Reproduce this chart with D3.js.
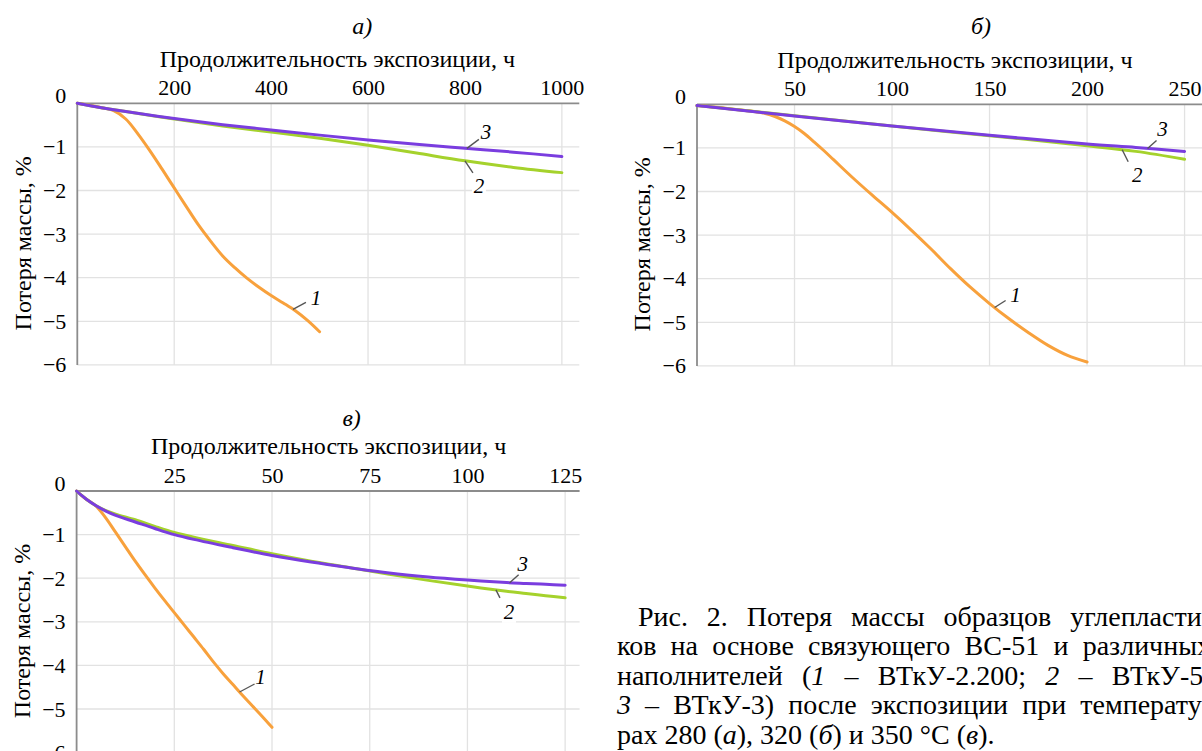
<!DOCTYPE html>
<html>
<head>
<meta charset="utf-8">
<script src="https://cdn.jsdelivr.net/npm/d3@7"></script>
<style>
  body { margin: 0; background: #fff; }
  svg { display: block; }
  text { font-family: "Liberation Serif", "Times New Roman", "DejaVu Serif", serif; fill: #000; }
</style>
</head>
<body>
<svg id="chart" width="1202" height="751"></svg>
<script>
// ---- data ----
const yTicks = [0, -1, -2, -3, -4, -5, -6];

// panel а) 280 °C
const ticksA = [200, 400, 600, 800, 1000];
const hoursA1 = [0, 50, 75, 100, 125, 150, 175, 200, 225, 250, 275, 300, 325, 350, 375, 400, 425, 450, 475, 500];
const lossA1 = [0, -0.10, -0.17, -0.36, -0.70, -1.09, -1.51, -1.94, -2.37, -2.79, -3.16, -3.50, -3.77, -4.01, -4.22, -4.41, -4.58, -4.76, -4.98, -5.24];
const hoursA23 = [0, 50, 100, 200, 300, 400, 500, 600, 700, 800, 900, 1000];
const lossA2 = [0, -0.10, -0.19, -0.36, -0.52, -0.66, -0.80, -0.96, -1.14, -1.32, -1.47, -1.59];
const lossA3 = [0, -0.10, -0.19, -0.35, -0.49, -0.61, -0.73, -0.84, -0.94, -1.03, -1.12, -1.22];

// panel б) 320 °C
const ticksB = [50, 100, 150, 200, 250];
const hoursB1 = [0, 10, 20, 30, 35, 40, 45, 50, 55, 60, 65, 70, 80, 90, 100, 110, 120, 130, 140, 150, 160, 170, 180, 190, 200];
const lossB1 = [-0.03, -0.07, -0.12, -0.17, -0.21, -0.28, -0.38, -0.51, -0.67, -0.86, -1.06, -1.27, -1.69, -2.09, -2.48, -2.89, -3.32, -3.77, -4.19, -4.57, -4.92, -5.24, -5.53, -5.76, -5.91];
const hoursB23 = [0, 50, 100, 150, 200, 225, 250];
const lossB2 = [-0.03, -0.26, -0.50, -0.72, -0.95, -1.08, -1.26];
const lossB3 = [-0.03, -0.27, -0.50, -0.71, -0.91, -0.99, -1.08];

// panel в) 350 °C
const ticksC = [25, 50, 75, 100, 125];
const hoursC1 = [0, 1.25, 2.5, 5, 7.5, 10, 12.5, 15, 17.5, 20, 22.5, 25, 27.5, 30, 32.5, 35, 37.5, 40, 42.5, 45, 47.5, 50];
const lossC1 = [0, -0.10, -0.19, -0.35, -0.62, -0.95, -1.28, -1.61, -1.92, -2.22, -2.51, -2.79, -3.07, -3.35, -3.63, -3.92, -4.19, -4.44, -4.69, -4.93, -5.17, -5.42];
const hoursC23 = [0, 1.25, 2.5, 5, 7.5, 10, 15, 20, 25, 30, 40, 50, 60, 70, 80, 90, 100, 110, 115, 120, 125];
const lossC2 = [0, -0.10, -0.19, -0.34, -0.45, -0.53, -0.66, -0.81, -0.95, -1.06, -1.25, -1.44, -1.61, -1.76, -1.91, -2.05, -2.18, -2.30, -2.35, -2.40, -2.45];
const lossC3 = [0, -0.10, -0.19, -0.34, -0.46, -0.56, -0.71, -0.86, -1.00, -1.11, -1.30, -1.48, -1.63, -1.76, -1.88, -1.97, -2.04, -2.10, -2.12, -2.14, -2.16];

const seriesNames = ["1", "2", "3"];
const colors = ["#f8a13c", "#a5d22c", "#7a3ddf"];

const axisTitle = "Продолжительность экспозиции, ч";
const yTitle = "Потеря массы, %";

// ---- drawing ----
const svg = d3.select("#chart");

function valueAt(hours, loss, h) {
  const i = d3.bisectLeft(hours, h);
  if (i <= 0) return loss[0];
  if (i >= hours.length) return loss[loss.length - 1];
  const t = (h - hours[i - 1]) / (hours[i] - hours[i - 1]);
  return loss[i - 1] + t * (loss[i] - loss[i - 1]);
}

function drawPanel(cfg) {
  const g = svg.append("g").attr("transform", `translate(${cfg.left},${cfg.top})`);
  const x = d3.scaleLinear().domain([0, cfg.xMax]).range([0, cfg.width]);
  const y = d3.scaleLinear().domain([-6, 0]).range([cfg.height, 0]);

  // grid
  g.append("g").selectAll("line").data(cfg.xTicks).join("line")
    .attr("x1", d => x(d)).attr("x2", d => x(d))
    .attr("y1", 0).attr("y2", cfg.height)
    .attr("stroke", "#e2e2e2").attr("stroke-width", 1.3);
  g.append("g").selectAll("line").data(yTicks.filter(d => d < 0)).join("line")
    .attr("x1", 0).attr("x2", cfg.width)
    .attr("y1", d => y(d)).attr("y2", d => y(d))
    .attr("stroke", "#e2e2e2").attr("stroke-width", 1.3);

  // axis lines (top and left)
  g.append("line").attr("x1", 0).attr("x2", cfg.width).attr("y1", 0).attr("y2", 0)
    .attr("stroke", "#8c8c8c").attr("stroke-width", 1.8);
  g.append("line").attr("x1", 0).attr("x2", 0).attr("y1", 0).attr("y2", cfg.height)
    .attr("stroke", "#8c8c8c").attr("stroke-width", 1.8);

  // tick labels
  const xAxis = g.append("g")
    .call(d3.axisTop(x).tickValues(cfg.xTicks).tickSize(0).tickPadding(8).tickFormat(d3.format("d")));
  xAxis.attr("font-family", null).attr("font-size", null);
  xAxis.select(".domain").remove();
  xAxis.selectAll("text").style("font-size", "22px").attr("fill", "#000");

  const yAxis = g.append("g")
    .call(d3.axisLeft(y).tickValues(yTicks).tickSize(0).tickPadding(11).tickFormat(d3.format("d")));
  yAxis.attr("font-family", null).attr("font-size", null);
  yAxis.select(".domain").remove();
  yAxis.selectAll("text").style("font-size", "22px").attr("fill", "#000");
  yAxis.selectAll(".tick").filter(d => d === 0).select("text").attr("y", -8);

  // curves
  const line = d3.line().x(d => x(d[0])).y(d => y(d[1])).curve(d3.curveCatmullRom.alpha(0.5));
  cfg.series.forEach(s => {
    g.append("path")
      .datum(d3.zip(s.hours, s.loss))
      .attr("d", line)
      .attr("fill", "none")
      .attr("stroke", s.color)
      .attr("stroke-width", 3)
      .attr("stroke-linecap", "round");
  });

  // curve numbers with leader lines
  cfg.notes.forEach(n => {
    const s = cfg.series[n.idx];
    const px = x(n.h), py = y(valueAt(s.hours, s.loss, n.h));
    g.append("rect")
      .attr("x", px + n.tx - 7).attr("y", py + n.ty - 11)
      .attr("width", 14).attr("height", 22).attr("fill", "#fff");
    g.append("line")
      .attr("x1", px).attr("y1", py).attr("x2", px + n.lx).attr("y2", py + n.ly)
      .attr("stroke", "#555").attr("stroke-width", 1.4);
    g.append("text")
      .attr("x", px + n.tx).attr("y", py + n.ty)
      .attr("dy", "0.35em").attr("text-anchor", "middle")
      .style("font-style", "italic").style("font-size", "21px")
      .text(seriesNames[n.idx]);
  });

  // titles
  g.append("text")
    .attr("x", cfg.titleX).attr("y", -45).attr("dy", "0.35em")
    .attr("text-anchor", "middle").style("font-size", "24px")
    .text(axisTitle);
  g.append("text")
    .attr("x", cfg.letterX).attr("y", cfg.letterY).attr("dy", "0.35em")
    .attr("text-anchor", "middle").style("font-size", "24px")
    .style("font-style", "italic")
    .text(cfg.letter);
  g.append("text")
    .attr("transform", `translate(${-55},${140}) rotate(-90)`)
    .attr("dy", "0.35em")
    .attr("text-anchor", "middle").style("font-size", "24px")
    .text(yTitle);
}

drawPanel({
  left: 77.3, top: 103.3, width: 502, height: 261.6, xMax: 1036,
  xTicks: ticksA, letter: "а)", letterX: 285, letterY: -78, titleX: 260,
  series: [
    { hours: hoursA1, loss: lossA1, color: colors[0] },
    { hours: hoursA23, loss: lossA2, color: colors[1] },
    { hours: hoursA23, loss: lossA3, color: colors[2] }
  ],
  notes: [
    { idx: 2, h: 804, lx: 12, ly: -9, tx: 19, ty: -17 },
    { idx: 1, h: 800, lx: 8, ly: 12, tx: 14, ty: 25 },
    { idx: 0, h: 445, lx: 13, ly: -7, tx: 23, ty: -12 }
  ]
});

drawPanel({
  left: 697, top: 104.3, width: 510, height: 261.6, xMax: 261.5,
  xTicks: ticksB, letter: "б)", letterX: 284, letterY: -79, titleX: 258,
  series: [
    { hours: hoursB1, loss: lossB1, color: colors[0] },
    { hours: hoursB23, loss: lossB2, color: colors[1] },
    { hours: hoursB23, loss: lossB3, color: colors[2] }
  ],
  notes: [
    { idx: 2, h: 231, lx: 9, ly: -8, tx: 15, ty: -20 },
    { idx: 1, h: 218, lx: 6, ly: 12, tx: 15, ty: 25 },
    { idx: 0, h: 152.6, lx: 11, ly: -7, tx: 21, ty: -13 }
  ]
});

drawPanel({
  left: 76.6, top: 491, width: 503, height: 261.6, xMax: 128.7,
  xTicks: ticksC, letter: "в)", letterX: 275, letterY: -73, titleX: 252,
  series: [
    { hours: hoursC1, loss: lossC1, color: colors[0] },
    { hours: hoursC23, loss: lossC2, color: colors[1] },
    { hours: hoursC23, loss: lossC3, color: colors[2] }
  ],
  notes: [
    { idx: 2, h: 110.8, lx: 9, ly: -8, tx: 13, ty: -19 },
    { idx: 1, h: 107.3, lx: 4, ly: 8, tx: 13, ty: 22 },
    { idx: 0, h: 41.7, lx: 15, ly: -8, tx: 21, ty: -15 }
  ]
});

// ---- caption (justified lines) ----
const captionLines = [
  [["Рис. 2. Потеря массы образцов углепласти-", false]],
  [["ков на основе связующего ВС-51 и различных", false]],
  [["наполнителей (", false], ["1", true], [" – ВТкУ-2.200; ", false], ["2", true], [" – ВТкУ-5;", false]],
  [["3", true], [" – ВТкУ-3) после экспозиции при температу-", false]],
  [["рах 280 (", false], ["а", true], ["), 320 (", false], ["б", true], [") и 350 °С (", false], ["в", true], [").", false]]
];

const capRight = 1211;
captionLines.forEach((parts, i) => {
  const x0 = i === 0 ? 638 : 617;
  const t = svg.append("text")
    .attr("x", x0).attr("y", 626 + i * 29.4)
    .style("font-size", "28px")
    .attr("xml:space", "preserve");
  parts.forEach(p => t.append("tspan").style("font-style", p[1] ? "italic" : "normal").text(p[0]));
  if (i < captionLines.length - 1) {
    const natural = t.node().getComputedTextLength();
    const spaces = parts.map(p => p[0]).join("").split(" ").length - 1;
    t.style("word-spacing", Math.max(0, (capRight - x0 - natural) / spaces) + "px");
  }
});
</script>
</body>
</html>
